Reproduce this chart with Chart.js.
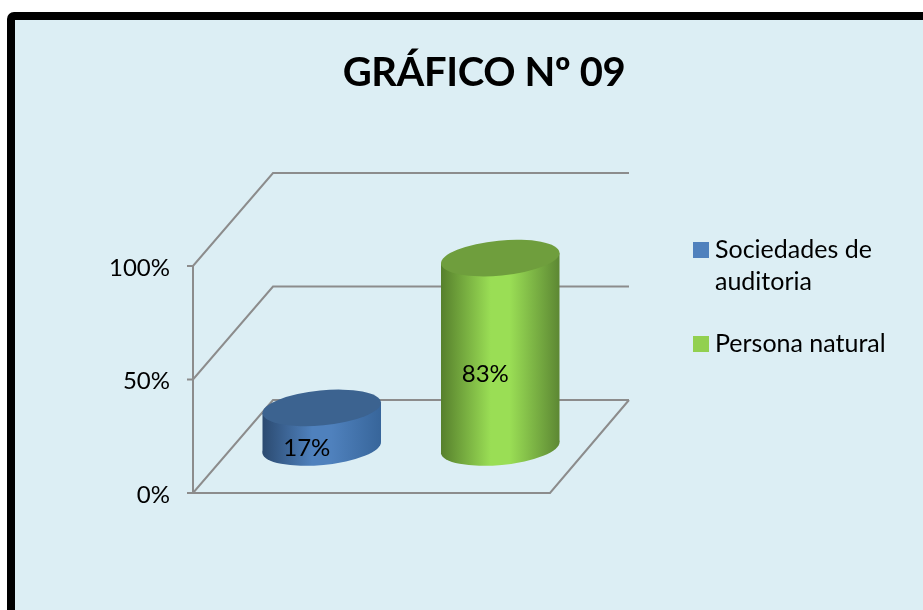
<!DOCTYPE html>
<html><head><meta charset="utf-8">
<script src="https://cdn.jsdelivr.net/npm/chart.js@4"></script>
<style>html,body{margin:0;padding:0;background:#fff}canvas{display:block}</style>
</head><body>
<canvas id="c" width="923" height="610" style="width:923px;height:610px"></canvas>
<script>
const titleText = 'GRÁFICO Nº 09';
const categories = ['Sociedades de auditoria', 'Persona natural'];
const legendLines = [['Sociedades de', 'auditoria'], ['Persona natural']];
const values = [17, 83];
const yTicks = [0, 50, 100];
const FONT = 'Lato, Carlito, sans-serif';
const DX = 80, DY = 93, GRID = '#8c8c8c';
const palettes = [
  {edgeL:'#2b4a70', mid:'#4f81bd', edgeR:'#37659a', top:'#3c6390'},
  {edgeL:'#567f2c', mid:'#9ade55', edgeR:'#5c8733', top:'#6f9e3d'}
];
const legendColors = ['#4f81bd', '#92d050'];

function line(ctx, pts){
  ctx.beginPath();
  pts.forEach((p,i)=> i ? ctx.lineTo(p[0],p[1]) : ctx.moveTo(p[0],p[1]));
  ctx.stroke();
}
const scene = {
  id:'scene',
  beforeDraw(chart){
    const ctx = chart.ctx;
    ctx.save();
    ctx.fillStyle = '#dceef4';
    ctx.strokeStyle = '#000';
    ctx.lineWidth = 8;
    ctx.beginPath();
    ctx.roundRect(11, 16, 1000, 1000, 3);
    ctx.fill(); ctx.stroke();
    ctx.restore();
  },
  beforeDatasetsDraw(chart){
    const {ctx, scales:{x,y}} = chart;
    const l = x.left, r = x.right;
    ctx.save();
    ctx.strokeStyle = GRID; ctx.lineWidth = 2;
    yTicks.forEach(t=>{
      const p = y.getPixelForValue(t);
      line(ctx, [[l-6,p],[l,p],[l+DX,p-DY],[r+DX-1,p-DY]]);
    });
    line(ctx, [[l,y.getPixelForValue(0)],[l,y.getPixelForValue(100)]]);
    const b = y.getPixelForValue(0);
    line(ctx, [[l,b],[r,b],[r+DX-1,b-DY]]);
    ctx.restore();
  },
  afterDatasetsDraw(chart){
    const ctx = chart.ctx, meta = chart.getDatasetMeta(0);
    meta.data.forEach((el,i)=>{
      const pal = palettes[i], cx = el.x + DX/2 - 0.5, a = el.width/2, bb = 17.5, th = -5.5*Math.PI/180;
      const topY = el.y - DY/2, botY = el.base - DY/2 + 1;
      const t = Math.atan(-(bb/a)*Math.tan(th));
      const ex = a*Math.cos(t)*Math.cos(th) - bb*Math.sin(t)*Math.sin(th);
      const ey = a*Math.cos(t)*Math.sin(th) + bb*Math.sin(t)*Math.cos(th);
      const g = ctx.createLinearGradient(cx-a,0,cx+a,0);
      g.addColorStop(0,pal.edgeL); g.addColorStop(0.42,pal.mid); g.addColorStop(0.58,pal.mid); g.addColorStop(1,pal.edgeR);
      ctx.save();
      ctx.fillStyle = g;
      ctx.beginPath(); ctx.ellipse(cx,botY,a,bb,th,0,Math.PI*2); ctx.fill();
      ctx.beginPath();
      ctx.moveTo(cx-ex,topY-ey); ctx.lineTo(cx+ex,topY+ey); ctx.lineTo(cx+ex,botY+ey); ctx.lineTo(cx-ex,botY-ey);
      ctx.closePath(); ctx.fill();
      ctx.fillStyle = pal.top;
      ctx.beginPath(); ctx.ellipse(cx,topY,a,bb,th,0,Math.PI*2); ctx.fill();
      ctx.fillStyle='#000'; ctx.font='24px '+FONT; ctx.textAlign='center'; ctx.textBaseline='middle';
      ctx.fillText(values[i]+'%', cx-15, (topY+botY)/2+21);
      ctx.restore();
    });
  },
  afterDraw(chart){
    const ctx = chart.ctx;
    ctx.save();
    ctx.fillStyle='#000'; ctx.textBaseline='alphabetic'; ctx.textAlign='center';
    ctx.font='bold 40px '+FONT;
    ctx.letterSpacing='-0.4px';
    ctx.fillText(titleText, 484, 86);
    ctx.letterSpacing='0px';
    ctx.textAlign='left'; ctx.font='25px '+FONT;
    const baselines = [[258,290],[352]], boxes=[242,336];
    legendLines.forEach((ls,i)=>{
      ctx.fillStyle = legendColors[i];
      ctx.fillRect(693,boxes[i],16,16);
      ctx.fillStyle='#000';
      ls.forEach((s,j)=>ctx.fillText(s,715,baselines[i][j]));
    });
    ctx.restore();
  }
};
new Chart(document.getElementById('c'),{
  type:'bar',
  data:{labels:categories,datasets:[{data:values,backgroundColor:'rgba(0,0,0,0)',borderWidth:0,categoryPercentage:1,barPercentage:2/3}]},
  options:{
    responsive:false, animation:false,
    layout:{padding:{left:0,right:373,top:266,bottom:117}},
    plugins:{legend:{display:false},title:{display:false},tooltip:{enabled:false}},
    scales:{
      x:{display:false,offset:true,grid:{display:false}},
      y:{min:0,max:100,grid:{display:false},border:{display:false},
         afterFit(s){s.width=193;},
         afterBuildTicks(s){s.ticks=yTicks.map(v=>({value:v}));},
         ticks:{padding:15,labelOffset:2,color:'#000',font:{family:FONT,size:24},callback:v=>v+'%'}}
    }
  },
  plugins:[scene]
});
</script>
</body></html>
